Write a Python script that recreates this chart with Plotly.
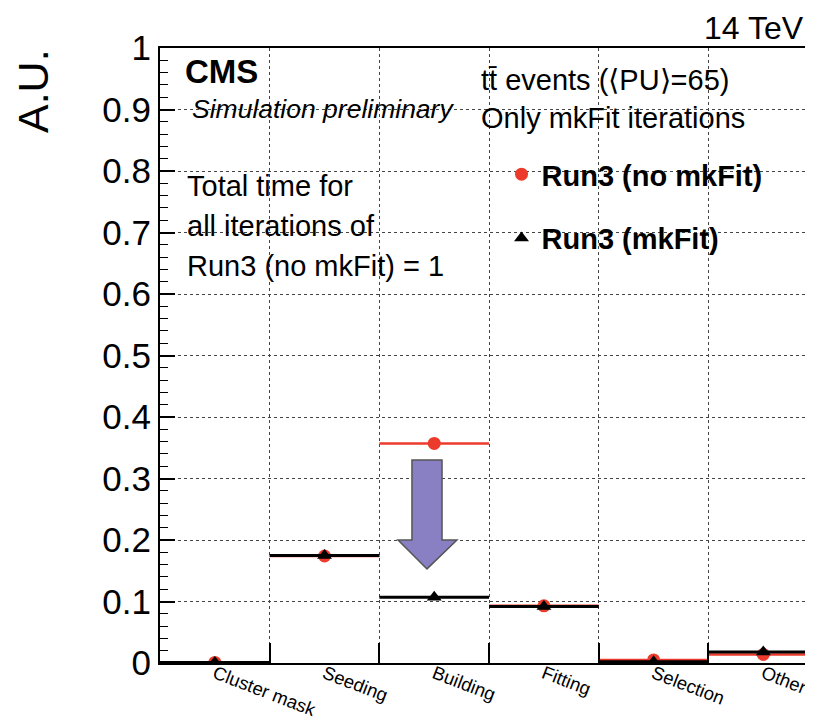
import plotly.graph_objects as go

categories = ["Cluster mask", "Seeding", "Building", "Fitting", "Selection", "Other"]
run3_no_mkfit = [0.001, 0.174, 0.357, 0.093, 0.005, 0.014]
run3_mkfit = [0.001, 0.175, 0.107, 0.092, 0.002, 0.018]
y_ticks = [0, 0.1, 0.2, 0.3, 0.4, 0.5, 0.6, 0.7, 0.8, 0.9, 1]
y_ticktext = ["0", "0.1", "0.2", "0.3", "0.4", "0.5", "0.6", "0.7", "0.8", "0.9", "1"]

centers = [i + 0.5 for i in range(len(categories))]
edges = list(range(1, len(categories)))
half = [0.5] * len(categories)

FONT = "Liberation Sans, Arial, Helvetica, sans-serif"
RED = "#ec3a2c"

fig = go.Figure()
fig.add_trace(go.Scatter(
    x=centers, y=run3_no_mkfit, mode="markers", name="<b>Run3 (no mkFit)</b>",
    legendgroup="a",
    marker=dict(symbol="circle", size=13, color=RED),
    error_x=dict(type="data", array=half, width=0, thickness=2.5, color=RED),
))
fig.add_trace(go.Scatter(
    x=centers, y=run3_mkfit, mode="markers", name="<b>Run3 (mkFit)</b>",
    legendgroup="b",
    marker=dict(symbol="triangle-up", size=13, color="black"),
    error_x=dict(type="data", array=half, width=0, thickness=3, color="black"),
))

# purple arrow (Building reduction)
fig.add_shape(
    type="path", xref="x", yref="y",
    path="M 2.297 0.330 L 2.571 0.330 L 2.571 0.200 L 2.707 0.200 L 2.434 0.153 "
         "L 2.170 0.200 L 2.297 0.200 Z",
    fillcolor="#8880c2", line=dict(color="#555555", width=1.5), layer="above",
)

annots = [
    dict(x=0.989, y=1.0325, text="14 TeV", xanchor="right", font=dict(size=32)),
    dict(x=0.035, y=0.961, text="<b>CMS</b>", xanchor="left", font=dict(size=33)),
    dict(x=0.046, y=0.901, text="<i>Simulation preliminary</i>", xanchor="left",
         font=dict(size=26.5)),
    dict(x=0.039, y=0.7756, text="Total time for", xanchor="left", font=dict(size=29)),
    dict(x=0.039, y=0.7106, text="all iterations of", xanchor="left", font=dict(size=29)),
    dict(x=0.039, y=0.6456, text="Run3 (no mkFit) = 1", xanchor="left", font=dict(size=29)),
    dict(x=0.488, y=0.948, text="tt\u0304 events (\u27e8PU\u27e9=65)", xanchor="left",
         font=dict(size=29)),
    dict(x=0.488, y=0.886, text="Only mkFit iterations", xanchor="left", font=dict(size=29)),
    dict(x=-0.1945, y=0.930, text="A.U.", textangle=-90, xanchor="center",
         font=dict(size=43)),
]
for a in annots:
    a.update(xref="paper", yref="paper", showarrow=False, yanchor="middle")
    fig.add_annotation(**a)

# page body has an 8px margin: figure is sized/offset so the plot area
# sits at page x 160..813, y 48..663
fig.update_layout(
    width=805, height=712,
    margin=dict(l=152, r=0, t=40, b=57),
    plot_bgcolor="white", paper_bgcolor="white",
    font=dict(family=FONT, color="black"),
    showlegend=True,
    legend=dict(x=0.523, y=0.836, xanchor="left", yanchor="top",
                bgcolor="rgba(0,0,0,0)", font=dict(size=29, color="black"),
                tracegroupgap=23, itemwidth=30),
    xaxis=dict(
        range=[0, 5.953], tickmode="array", tickvals=centers, ticktext=categories,
        tickangle=21, ticks="", showgrid=False, zeroline=False, automargin=False,
        tickfont=dict(size=18.5), ticklabelstandoff=-9,
        showline=True, linecolor="black", linewidth=2, mirror=True,
        minor=dict(tickmode="array", tickvals=edges, ticks="inside", ticklen=20,
                   tickcolor="black", tickwidth=1.5, showgrid=True,
                   gridcolor="#444", griddash="dot", gridwidth=1),
    ),
    yaxis=dict(
        range=[0, 1], tickmode="array", tickvals=y_ticks, ticktext=y_ticktext,
        ticks="inside", ticklen=15, tickwidth=1.5, tickcolor="black", automargin=False,
        tickfont=dict(size=35), showgrid=True, gridcolor="#444", griddash="dot",
        gridwidth=1, zeroline=False,
        showline=True, linecolor="black", linewidth=2,
        minor=dict(dtick=0.02, ticks="inside", ticklen=8, tickcolor="black",
                   tickwidth=1, showgrid=False),
    ),
)

fig.write_html("out.html")
